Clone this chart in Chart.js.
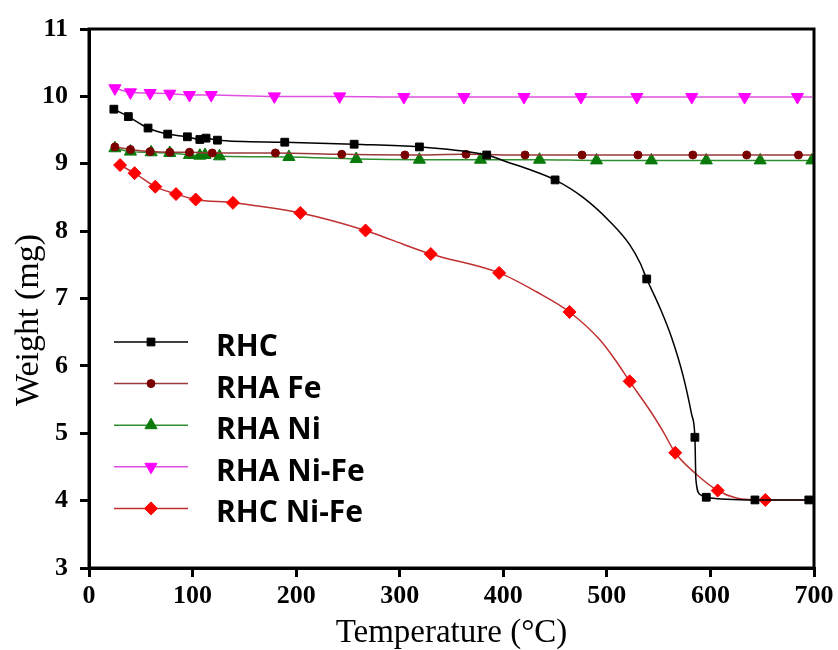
<!DOCTYPE html>
<html>
<head>
<meta charset="utf-8">
<script src="https://cdn.jsdelivr.net/npm/chart.js@4"></script>
<style>
  body { margin: 0; background: #fff; }
  #wrap { width: 838px; height: 650px; position: relative; }
</style>
</head>
<body>
<div id="wrap"><canvas id="tga"></canvas></div>
<script>
// values; mark = 1 where a symbol is drawn
const rhcTemp = [24, 38, 57, 76, 95, 107, 113, 124, 189, 256, 319, 384, 403, 426, 450, 477, 503, 522, 532, 538.5, 551, 562.5, 574, 582, 585, 586, 590, 596, 643, 695];
const rhcWeight = [9.81, 9.70, 9.53, 9.44, 9.40, 9.36, 9.38, 9.35, 9.32, 9.29, 9.25, 9.13, 9.03, 8.91, 8.76, 8.50, 8.14, 7.80, 7.53, 7.29, 6.87, 6.42, 5.83, 5.27, 4.94, 4.31, 4.09, 4.05, 4.01, 4.01];
const rhcMark = [1, 1, 1, 1, 1, 1, 1, 1, 1, 1, 1, 1, 0, 0, 1, 0, 0, 0, 0, 1, 0, 0, 0, 0, 1, 0, 0, 1, 1, 1];

const feTemp = [25, 40, 59, 78, 97, 119, 180, 244, 305, 364, 421, 476, 530, 583, 635, 685, 698];
const feWeight = [9.25, 9.21, 9.18, 9.17, 9.17, 9.16, 9.16, 9.14, 9.13, 9.14, 9.13, 9.13, 9.13, 9.13, 9.13, 9.13, 9.13];
const feMark = [1, 1, 1, 1, 1, 1, 1, 1, 1, 1, 1, 1, 1, 1, 1, 1, 0];

const niTemp = [25, 40, 60, 78, 97, 107, 112, 126, 193, 258, 319, 378, 435, 490, 543, 596, 648, 698];
const niWeight = [9.23, 9.18, 9.17, 9.16, 9.13, 9.12, 9.13, 9.11, 9.10, 9.07, 9.06, 9.06, 9.06, 9.05, 9.05, 9.05, 9.05, 9.05];
const niMark = [1, 1, 1, 1, 1, 1, 1, 1, 1, 1, 1, 1, 1, 1, 1, 1, 1, 1];

const nifeTemp = [25, 40, 59, 78, 97, 118, 179, 242, 304, 362, 420, 475, 529, 582, 633, 684, 698];
const nifeWeight = [10.12, 10.06, 10.05, 10.04, 10.02, 10.02, 10.00, 10.00, 9.99, 9.99, 9.99, 9.99, 9.99, 9.99, 9.99, 9.99, 9.99];
const nifeMark = [1, 1, 1, 1, 1, 1, 1, 1, 1, 1, 1, 1, 1, 1, 1, 1, 0];

const rhcNifeTemp = [30, 44, 64, 84, 103, 139, 204, 267, 292, 330, 396, 432, 464, 493, 508, 522, 542, 554.5, 566, 585, 607, 625, 653, 700];
const rhcNifeWeight = [8.98, 8.86, 8.66, 8.55, 8.47, 8.42, 8.27, 8.01, 7.87, 7.66, 7.38, 7.10, 6.80, 6.39, 6.09, 5.77, 5.33, 5.02, 4.71, 4.41, 4.15, 4.04, 4.01, 4.01];
const rhcNifeMark = [1, 1, 1, 1, 1, 1, 1, 1, 0, 1, 1, 0, 1, 0, 0, 1, 0, 0, 1, 0, 1, 0, 1, 0];

const labels = ['RHC', 'RHA Fe', 'RHA Ni', 'RHA Ni-Fe', 'RHC Ni-Fe'];

function pts(t, w) {
  return t.map((x, i) => ({ x: x, y: w[i] }));
}

function series(label, t, w, mark, line, fill, style, r, rot) {
  return {
    label: label,
    data: pts(t, w),
    showLine: true,
    borderColor: line,
    borderWidth: 1.5,
    backgroundColor: fill,
    pointBackgroundColor: fill,
    pointBorderColor: fill,
    pointBorderWidth: 1,
    pointStyle: style,
    pointRotation: rot || 0,
    pointRadius: mark.map(m => m ? r : 0),
    pointHoverRadius: mark.map(m => m ? r : 0),
    cubicInterpolationMode: 'monotone',
    legendRadius: r,
  };
}

// frame round the plot + y title (sits lower than the plot centre)
const frame = {
  id: 'frame',
  afterDatasetsDraw(chart) {
    const a = chart.chartArea, c = chart.ctx;
    c.save();
    c.strokeStyle = '#000';
    c.lineWidth = 3;
    c.strokeRect(a.left, a.top, a.right - a.left, a.bottom - a.top);
    c.translate(29, 320);
    c.rotate(-Math.PI / 2);
    c.fillStyle = '#000';
    c.font = '34px "Liberation Serif"';
    c.textAlign = 'center';
    c.textBaseline = 'middle';
    c.fillText('Weight (mg)', 0, 0);
    c.restore();
  }
};

// legend inside the plot, bottom left
const insideLegend = {
  id: 'insideLegend',
  afterDraw(chart) {
    const c = chart.ctx;
    const x0 = 114, x1 = 188, xm = 151, tx = 216;
    let y = 342;
    c.save();
    chart.data.datasets.forEach(ds => {
      c.strokeStyle = ds.borderColor;
      c.lineWidth = 1.5;
      c.beginPath();
      c.moveTo(x0, y);
      c.lineTo(x1, y);
      c.stroke();
      c.fillStyle = ds.pointBackgroundColor;
      c.strokeStyle = ds.pointBorderColor;
      c.lineWidth = 1;
      Chart.helpers.drawPoint(c, {
        pointStyle: ds.pointStyle,
        rotation: ds.pointRotation,
        radius: ds.legendRadius,
        borderWidth: 1
      }, xm, y);
      c.fillStyle = '#000';
      c.font = 'bold 30px "Open Sans"';
      c.textBaseline = 'alphabetic';
      c.fillText(ds.label, tx, y + 14);
      y += 41.6;
    });
    c.restore();
  }
};

new Chart(document.getElementById('tga'), {
  type: 'scatter',
  data: {
    datasets: [
      series(labels[0], rhcTemp, rhcWeight, rhcMark, '#000000', '#000000', 'rect', 5.5),
      series(labels[1], feTemp, feWeight, feMark, '#9a3a3a', '#7a0000', 'circle', 4),
      series(labels[2], niTemp, niWeight, niMark, '#2f8f2f', '#0a7a0a', 'triangle', 7),
      series(labels[3], nifeTemp, nifeWeight, nifeMark, '#e050e0', '#ff00ff', 'triangle', 7, 180),
      series(labels[4], rhcNifeTemp, rhcNifeWeight, rhcNifeMark, '#c03030', '#ff0000', 'rectRot', 6.5),
    ],
  },
  options: {
    responsive: true,
    maintainAspectRatio: false,
    animation: false,
    layout: {
      padding: { left: 0, top: 29, right: 24, bottom: 0 },
    },
    plugins: {
      legend: { display: false },
      tooltip: { enabled: false },
    },
    scales: {
      x: {
        type: 'linear',
        min: 0,
        max: 700,
        afterFit(scale) { scale.height = 82; },
        border: { display: true, color: '#000', width: 3 },
        grid: { drawOnChartArea: false, drawTicks: true, tickLength: 9, lineWidth: 3, color: '#000' },
        ticks: {
          stepSize: 100,
          padding: 4,
          color: '#000',
          font: { family: '"Liberation Serif"', size: 26, weight: 'bold' },
        },
        title: {
          display: true,
          text: 'Temperature (°C)',
          color: '#000',
          padding: { top: 0, bottom: 0 },
          font: { family: '"Liberation Serif"', size: 33, lineHeight: 1.0 },
        },
      },
      y: {
        min: 3,
        max: 11,
        afterFit(scale) { scale.width = 89; },
        border: { display: true, color: '#000', width: 3 },
        grid: { drawOnChartArea: false, drawTicks: true, tickLength: 9, lineWidth: 3, color: '#000' },
        ticks: {
          stepSize: 1,
          padding: 12,
          color: '#000',
          font: { family: '"Liberation Serif"', size: 26, weight: 'bold' },
        },
        title: { display: false },
      },
    },
  },
  plugins: [frame, insideLegend],
});
</script>
</body>
</html>
